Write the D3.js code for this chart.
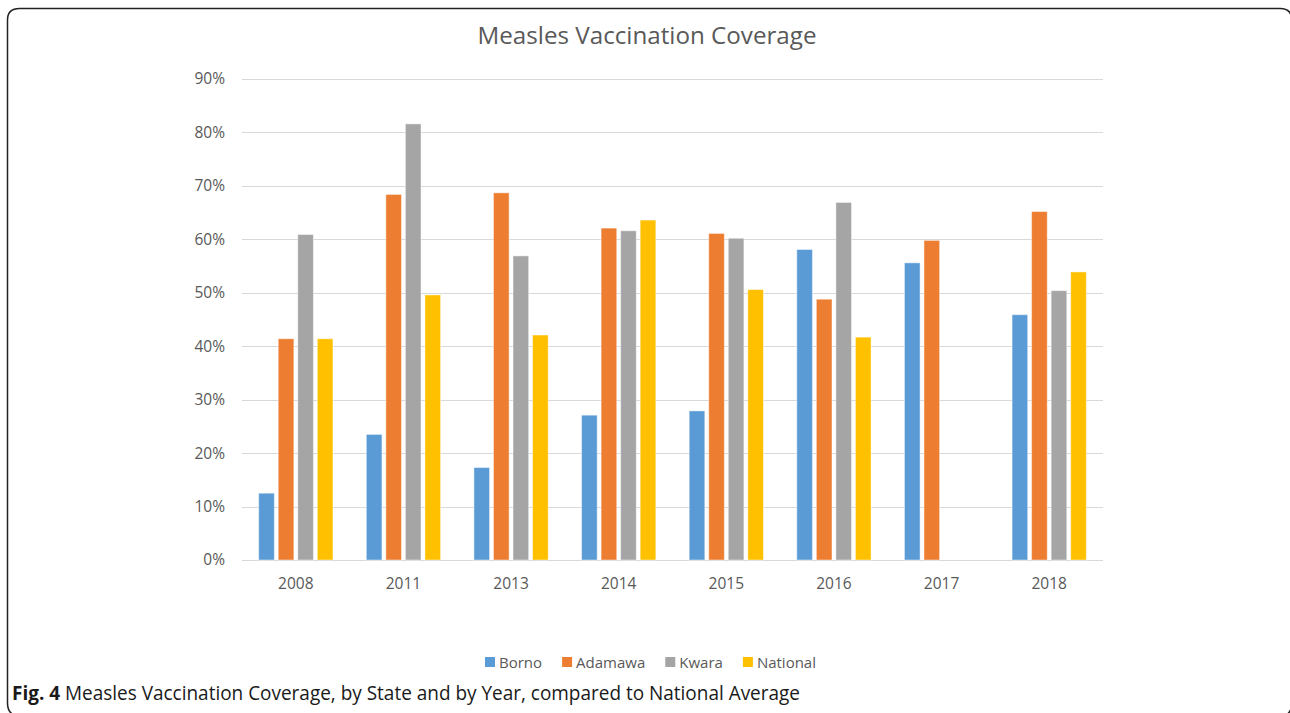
<!DOCTYPE html>
<html>
<head>
<meta charset="utf-8">
<script src="https://cdn.jsdelivr.net/npm/d3@7"></script>
<style>
  html, body { margin: 0; padding: 0; background: #fff; }
  svg { display: block; }
  text { font-family: "Open Sans", sans-serif; }
</style>
</head>
<body>
<svg id="chart" width="1290" height="713"></svg>
<script>
// ---- data ----
const years = ["2008", "2011", "2013", "2014", "2015", "2016", "2017", "2018"];
const seriesNames = ["Borno", "Adamawa", "Kwara", "National"];
const borno    = [0.125, 0.235, 0.173, 0.271, 0.279, 0.581, 0.556, 0.459];
const adamawa  = [0.414, 0.684, 0.687, 0.621, 0.611, 0.488, 0.598, 0.652];
const kwara    = [0.609, 0.816, 0.569, 0.616, 0.602, 0.669, null,  0.504];
const national = [0.414, 0.496, 0.421, 0.636, 0.506, 0.417, null,  0.539];
const yTicks   = [0, 0.1, 0.2, 0.3, 0.4, 0.5, 0.6, 0.7, 0.8, 0.9];
const colors   = ["#5B9BD5", "#ED7D31", "#A5A5A5", "#FFC000"];
const titleText = "Measles Vaccination Coverage";
const captionBold = "Fig. 4";
const captionRest = " Measles Vaccination Coverage, by State and by Year, compared to National Average";

(function () {
const allSeries = [borno, adamawa, kwara, national];
const rows = years.map((yr, i) => ({ year: yr, vals: seriesNames.map((s, k) => ({ key: s, v: allSeries[k][i] })) }));

const svg = d3.select("#chart");

// frame (rounded, partly cut off at right and bottom)
svg.append("path")
  .attr("d", "M17,716 Q7.5,714 7.5,703 L7.5,20 Q7.5,8.5 19.5,8.5 L1280,8.5 Q1291.8,8.5 1291.8,20 L1291.8,703 Q1291.8,712 1285,716")
  .attr("fill", "none").attr("stroke", "#222").attr("stroke-width", 1.5);

const pLeft = 242, pRight = 1103, pTop = 79, pBottom = 560;

const x0 = d3.scaleBand().domain(years).range([pLeft, pRight]).paddingInner(0).paddingOuter(0);
const groupW = x0.bandwidth() * 0.69;
const x1 = d3.scaleBand().domain(seriesNames).range([-groupW / 2, groupW / 2]).paddingInner(0.2).paddingOuter(0);
const y = d3.scaleLinear().domain([0, 0.9]).range([pBottom, pTop]);

// gridlines
svg.append("g").selectAll("line").data(yTicks).join("line")
  .attr("x1", pLeft).attr("x2", pRight)
  .attr("y1", d => Math.round(y(d)) + 0.5).attr("y2", d => Math.round(y(d)) + 0.5)
  .attr("stroke", "#D9D9D9").attr("stroke-width", 1);

// y axis labels
const yAxis = d3.axisLeft(y).tickValues(yTicks).tickFormat(d3.format(".0%")).tickSize(0).tickPadding(17);
const gy = svg.append("g").attr("transform", `translate(${pLeft},0)`).call(yAxis);
gy.select(".domain").remove();
gy.selectAll("text").attr("fill", "#595959").style("font-size", "15.5px").style("font-family", "'Open Sans', sans-serif");

// x axis labels
const xAxis = d3.axisBottom(x0).tickSize(0).tickPadding(18);
const gx = svg.append("g").attr("transform", `translate(0,${pBottom})`).call(xAxis);
gx.select(".domain").remove();
gx.selectAll("text").attr("fill", "#595959").style("font-size", "15.5px").style("font-family", "'Open Sans', sans-serif");

// bars
const groups = svg.append("g").selectAll("g").data(rows).join("g")
  .attr("transform", d => `translate(${x0(d.year) + x0.bandwidth() / 2},0)`);
groups.selectAll("rect").data(d => d.vals.filter(v => v.v != null)).join("rect")
  .attr("x", d => x1(d.key))
  .attr("width", x1.bandwidth())
  .attr("y", d => y(d.v))
  .attr("height", d => y(0) - y(d.v))
  .attr("fill", d => colors[seriesNames.indexOf(d.key)])
  .attr("stroke", "#fff").attr("stroke-opacity", 0.45).attr("stroke-width", 1);

// title
svg.append("text").attr("x", 647).attr("y", 44).attr("text-anchor", "middle")
  .attr("fill", "#595959").style("font-size", "24px")
  .attr("textLength", 339).attr("lengthAdjust", "spacingAndGlyphs")
  .text(titleText);

// legend
const legend = svg.append("g");
let lx = 0;
seriesNames.forEach((s, i) => {
  const g = legend.append("g");
  g.append("rect").attr("x", 0).attr("y", -5).attr("width", 10).attr("height", 10).attr("fill", colors[i]);
  const t = g.append("text").attr("x", 14).attr("y", 5.5).attr("fill", "#595959").style("font-size", "15px").text(s);
  const w = 14 + t.node().getComputedTextLength();
  g.attr("transform", `translate(${lx},0)`);
  lx += w + 20;
});
const legendW = lx - 20;
legend.attr("transform", `translate(${650.5 - legendW / 2},662)`);

// caption
const cap = svg.append("text").attr("x", 12).attr("y", 700).attr("fill", "#1a1a1a").style("font-size", "20px")
  .attr("textLength", 788).attr("lengthAdjust", "spacingAndGlyphs");
cap.append("tspan").style("font-weight", "bold").text(captionBold);
cap.append("tspan").text(captionRest);
})();
</script>
</body>
</html>
